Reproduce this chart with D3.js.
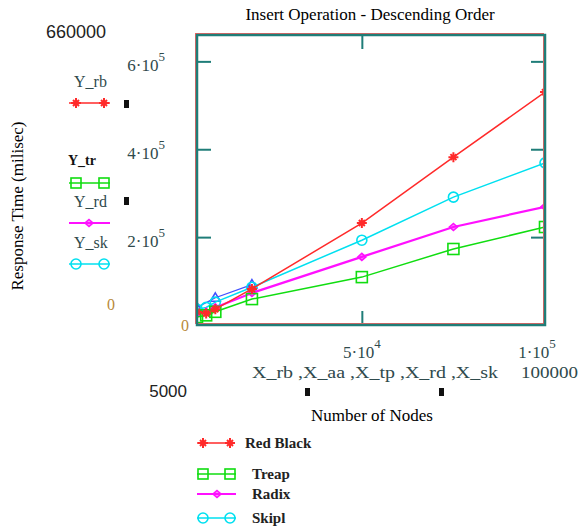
<!DOCTYPE html>
<html>
<head>
<meta charset="utf-8">
<script src="https://cdn.jsdelivr.net/npm/d3@7"></script>
<style>
body { margin: 0; background: #fff; }
svg { display: block; }
</style>
</head>
<body>
<div class="chart"></div>
<script>
// DATA
var nodes = [5000, 7500, 10000, 20000, 50000, 75000, 100000];
var redBlack = [30000, 26000, 36000, 82000, 232000, 382000, 530000];
var treap = [18000, 22000, 30000, 59000, 109000, 173000, 223000];
var radix = [26000, 30000, 40000, 73000, 155000, 223000, 269000];
var skipl = [36000, 40000, 52000, 86000, 193000, 291000, 369000];
var aaNodes = [5000, 10000, 20000];
var aaValues = [40000, 62000, 92000];

var yTicks = [200000, 400000, 600000];
var yTickLabels = [["2", "5"], ["4", "5"], ["6", "5"]];
var xTicks = [50000, 100000];
var xTickLabels = [["5", "4"], ["1", "5"]];
var yMax = 660000, xMin = 5000, xMax = 100000;

var series = [
	{ name: "Red Black", key: "Y_rb", values: redBlack, color: "#ff2a2a", marker: "plus" },
	{ name: "Treap", key: "Y_tr", values: treap, color: "#10dd10", marker: "square" },
	{ name: "Radix", key: "Y_rd", values: radix, color: "#ff10ff", marker: "diamond" },
	{ name: "Skipl", key: "Y_sk", values: skipl, color: "#00e0f0", marker: "circle" }
];

// INITIALIZATION
var W = 579, H = 529;
var plot = { left: 197, right: 545, top: 35, bottom: 325 };
var frameColor = "#1f7d78";
var labelColor = "#2f4a4c";
var SERIF = "'Liberation Serif', 'Times New Roman', serif";
var SANS = "'Liberation Sans', Arial, sans-serif";

var svg = d3.select(".chart").append("svg")
	.attr("width", W)
	.attr("height", H);

var x = d3.scaleLinear().domain([xMin, xMax]).range([plot.left, plot.right]);
var y = d3.scaleLinear().domain([0, yMax]).range([plot.bottom, plot.top]);

function serifText(px, py, size) {
	return svg.append("text")
		.attr("font-family", SERIF)
		.attr("x", px).attr("y", py)
		.attr("font-size", size);
}

// title
serifText(370, 20, 17)
	.attr("text-anchor", "middle")
	.text("Insert Operation - Descending Order");

// inner ticks via axes
function cleanAxis(g) {
	g.select(".domain").remove();
	g.selectAll(".tick line").attr("stroke", frameColor).attr("stroke-width", 2);
	g.selectAll(".tick text").remove();
}
svg.append("g").attr("transform", "translate(" + plot.left + ",0)")
	.call(d3.axisLeft(y).tickValues(yTicks).tickSize(-14)).call(cleanAxis);
svg.append("g").attr("transform", "translate(" + plot.right + ",0)")
	.call(d3.axisRight(y).tickValues(yTicks).tickSize(-14)).call(cleanAxis);
svg.append("g").attr("transform", "translate(0," + plot.bottom + ")")
	.call(d3.axisBottom(x).tickValues([50000]).tickSize(-14)).call(cleanAxis);
svg.append("g").attr("transform", "translate(0," + plot.top + ")")
	.call(d3.axisTop(x).tickValues([50000]).tickSize(-14)).call(cleanAxis);

// markers
function drawMarker(g, type, cx, cy, color, s) {
	if (type == "plus") {
		g.append("path")
			.attr("d", "M" + (cx - s) + "," + cy + "H" + (cx + s) + "M" + cx + "," + (cy - s) + "V" + (cy + s) +
				"M" + (cx - s * 0.6) + "," + (cy - s * 0.6) + "L" + (cx + s * 0.6) + "," + (cy + s * 0.6) +
				"M" + (cx - s * 0.6) + "," + (cy + s * 0.6) + "L" + (cx + s * 0.6) + "," + (cy - s * 0.6))
			.attr("stroke", color).attr("stroke-width", 2).attr("fill", "none");
	} else if (type == "square") {
		g.append("rect")
			.attr("x", cx - s).attr("y", cy - s).attr("width", 2 * s).attr("height", 2 * s)
			.attr("stroke", color).attr("stroke-width", 1.6).attr("fill", "none");
	} else if (type == "diamond") {
		g.append("path")
			.attr("d", "M" + cx + "," + (cy - s * 0.7) + "L" + (cx + s * 0.8) + "," + cy + "L" + cx + "," + (cy + s * 0.7) + "L" + (cx - s * 0.8) + "," + cy + "Z")
			.attr("stroke", color).attr("stroke-width", 1.6).attr("fill", color).attr("fill-opacity", 0.5);
	} else if (type == "circle") {
		g.append("circle")
			.attr("cx", cx).attr("cy", cy).attr("r", s)
			.attr("stroke", color).attr("stroke-width", 1.6).attr("fill", "none");
	} else if (type == "triangle") {
		g.append("path")
			.attr("d", "M" + cx + "," + (cy - s) + "L" + (cx + s) + "," + (cy + s * 0.7) + "L" + (cx - s) + "," + (cy + s * 0.7) + "Z")
			.attr("stroke", color).attr("stroke-width", 1.5).attr("fill", "none");
	}
}

var line = d3.line()
	.x(function(d) { return x(d[0]); })
	.y(function(d) { return y(d[1]); });

svg.append("defs").append("clipPath").attr("id", "plot-clip")
	.append("rect")
	.attr("x", plot.left).attr("y", plot.top)
	.attr("width", plot.right - plot.left).attr("height", plot.bottom - plot.top);

var plotArea = svg.append("g").attr("clip-path", "url(#plot-clip)");

// blue series near origin (no legend entry)
plotArea.append("path")
	.attr("d", line(d3.zip(aaNodes, aaValues)))
	.attr("stroke", "#4050ff").attr("stroke-width", 1.2).attr("fill", "none");
aaNodes.forEach(function(n, i) {
	drawMarker(plotArea, "triangle", x(n), y(aaValues[i]), "#4050ff", 5);
});

series.slice().reverse().forEach(function(s) {
	var pts = d3.zip(nodes, s.values);
	plotArea.append("path")
		.attr("d", line(pts))
		.attr("stroke", s.color)
		.attr("stroke-width", s.marker == "diamond" ? 2.2 : 1.5)
		.attr("fill", "none");
	pts.forEach(function(p) {
		drawMarker(plotArea, s.marker, x(p[0]), y(p[1]), s.color, s.marker == "square" ? 5.5 : 5);
	});
});

// frame
svg.append("rect")
	.attr("x", plot.left - 1.5).attr("y", plot.top - 1.5)
	.attr("width", plot.right - plot.left).attr("height", plot.bottom - plot.top)
	.attr("fill", "none").attr("stroke", "#ff6060").attr("stroke-width", 1);
svg.append("rect")
	.attr("x", plot.left).attr("y", plot.top)
	.attr("width", plot.right - plot.left).attr("height", plot.bottom - plot.top)
	.attr("fill", "none").attr("stroke", frameColor).attr("stroke-width", 2.5);

// y tick labels
yTicks.forEach(function(t, i) {
	var txt = serifText(165, y(t) + 10, 17)
		.attr("text-anchor", "end")
		.attr("fill", labelColor);
	txt.append("tspan").text(yTickLabels[i][0] + "\u00b710");
	txt.append("tspan").attr("dy", -10).attr("font-size", 13).text(yTickLabels[i][1]);
});
serifText(185, y(0) + 6, 16)
	.attr("text-anchor", "middle").attr("fill", "#b88a3a")
	.text("0");
serifText(111, 310, 16)
	.attr("text-anchor", "middle").attr("fill", "#b88a3a")
	.text("0");

// x tick labels
xTicks.forEach(function(t, i) {
	var txt = serifText(x(t) - (i == 1 ? 8 : 0), 358, 17)
		.attr("text-anchor", "middle")
		.attr("fill", labelColor);
	txt.append("tspan").text(xTickLabels[i][0] + "\u00b710");
	txt.append("tspan").attr("dy", -10).attr("font-size", 13).text(xTickLabels[i][1]);
});

// range labels
svg.append("text").attr("font-family", SANS)
	.attr("x", 46).attr("y", 38)
	.attr("font-size", 18).attr("fill", "#222")
	.text(d3.format("d")(yMax));
svg.append("text").attr("font-family", SANS)
	.attr("x", 187).attr("y", 397)
	.attr("text-anchor", "end")
	.attr("font-size", 17).attr("fill", "#222")
	.text(d3.format("d")(xMin));
serifText(521, 378, 17)
	.attr("fill", labelColor)
	.attr("textLength", 57).attr("lengthAdjust", "spacingAndGlyphs")
	.text(d3.format("d")(xMax));

// x variable list
serifText(252, 378, 16)
	.attr("fill", labelColor)
	.attr("textLength", 246).attr("lengthAdjust", "spacingAndGlyphs")
	.text("X_rb ,X_aa ,X_tp ,X_rd ,X_sk");

// small black placeholder squares
[[305, 388], [439, 388], [124, 100], [124, 197]].forEach(function(p) {
	svg.append("rect").attr("x", p[0]).attr("y", p[1])
		.attr("width", 5).attr("height", 8).attr("fill", "#111");
});

// axis titles
serifText(372, 421, 17)
	.attr("text-anchor", "middle")
	.text("Number of Nodes");
svg.append("text").attr("font-family", SERIF)
	.attr("transform", "translate(23,206) rotate(-90)")
	.attr("text-anchor", "middle")
	.attr("font-size", 17)
	.text("Response Time (milisec)");

// left trace legend
var leftLegend = [
	{ ly: 87, lx: 74, color: labelColor, lineY: 103 },
	{ ly: 165, lx: 68, color: "#111", lineY: 183 },
	{ ly: 207, lx: 74, color: labelColor, lineY: 223 },
	{ ly: 248, lx: 74, color: labelColor, lineY: 264 }
];
series.forEach(function(s, i) {
	var l = leftLegend[i];
	serifText(l.lx, l.ly, i == 1 ? 14 : 16)
		.attr("fill", l.color)
		.attr("font-weight", i == 1 ? "bold" : "normal")
		.text(s.key);
	svg.append("line")
		.attr("x1", 69).attr("x2", 110).attr("y1", l.lineY).attr("y2", l.lineY)
		.attr("stroke", s.color).attr("stroke-width", s.marker == "diamond" ? 2 : 1.5);
	if (s.marker == "diamond") {
		drawMarker(svg, s.marker, 89, l.lineY, s.color, 5);
	} else {
		drawMarker(svg, s.marker, 76, l.lineY, s.color, 5);
		drawMarker(svg, s.marker, 104, l.lineY, s.color, 5);
	}
});

// bottom legend
var legendY = [443, 474, 494, 518];
series.forEach(function(s, i) {
	var ly = legendY[i];
	var x2 = i == 0 ? 233 : 236;
	svg.append("line")
		.attr("x1", 197).attr("x2", x2).attr("y1", ly).attr("y2", ly)
		.attr("stroke", s.color).attr("stroke-width", s.marker == "diamond" ? 2 : 1.5);
	if (s.marker == "diamond") {
		drawMarker(svg, s.marker, 217, ly, s.color, 5);
	} else {
		drawMarker(svg, s.marker, 203, ly, s.color, 5);
		drawMarker(svg, s.marker, 230, ly, s.color, 5);
	}
	serifText(i == 0 ? 245 : 252, ly + 5, 15)
		.attr("font-weight", "bold").attr("fill", "#222")
		.text(s.name);
});
</script>
</body>
</html>
